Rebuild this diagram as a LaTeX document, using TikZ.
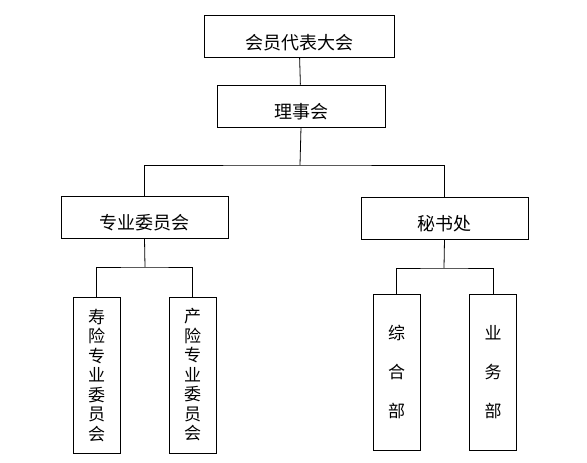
\documentclass[tikz,border=0pt]{standalone}
\usepackage{fontspec}
\newfontfamily\cjk{Noto Sans CJK SC}
\usetikzlibrary{positioning}

\begin{document}
\begin{tikzpicture}[x=1pt, y=-1pt,
  hbox/.style={rectangle, draw, line width=0.8pt, inner sep=0pt,
               minimum width=#1, minimum height=42pt,
               text height=25pt, text depth=0pt,
               font=\cjk\fontsize{18}{21}\selectfont},
  vbox/.style={rectangle, draw, line width=0.8pt, inner sep=0pt,
               minimum width=47pt, minimum height=156pt, align=center,
               font=\cjk\fontsize{17}{#1}\selectfont},
  link/.style={line width=0.8pt},
]
  \useasboundingbox (0,0) rectangle (587,463);

  % ── top levels ──
  \node[hbox=190pt] (hy) at (299,36.5) {会员代表大会};
  \node[hbox=168pt] (lsh) at (301,106) {理事会};

  % ── middle level ──
  \node[hbox=167pt] (zw) at (144.5,217) {专业委员会};
  \node[hbox=167pt] (ms) at (444.5,218) {秘书处\hspace{1em}};

  % ── bottom level ──
  \node[vbox=19.5pt] (sx) at (96.5,375.5) {寿\\险\\专\\业\\委\\员\\会};
  \node[vbox=19.5pt] (cx) at (192.5,375) {产\\险\\专\\业\\委\\员\\会};
  \node[vbox=39pt] (zh) at (396.5,372) {综\\合\\部};
  \node[vbox=39pt] (yw) at (493,372) {业\\务\\部};

  % ── connectors ──
  \coordinate (b1) at (300,165);
  \coordinate (b2) at (145,267);
  \coordinate (b3) at (444,268);

  \draw[link] (hy) -- (lsh);
  \draw[link] (lsh.south) -- (b1);
  \draw[link] (zw.north) |- (b1) -| (ms.north);

  \draw[link] (zw.south) -- (b2);
  \draw[link] (sx.north) |- (b2) -| (cx.north);

  \draw[link] (ms.south) -- (b3);
  \draw[link] (zh.north) |- (b3) -| (yw.north);
\end{tikzpicture}
\end{document}
